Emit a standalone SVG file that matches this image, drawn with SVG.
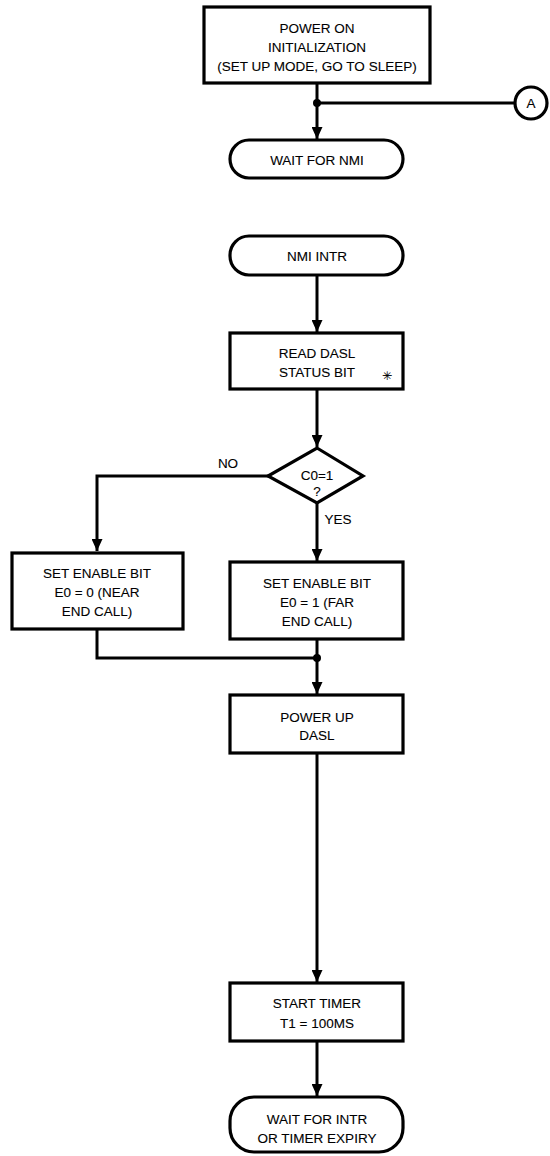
<svg xmlns="http://www.w3.org/2000/svg" width="550" height="1156" viewBox="0 0 550 1156">
<style>
.n{fill:#fff;stroke:#000;stroke-width:3.2}
.c{fill:none;stroke:#000;stroke-width:3}
text{font-family:"Liberation Sans",Arial,sans-serif;font-size:13.5px;fill:#000;stroke:#000;stroke-width:0.1;text-anchor:middle}
</style>
<defs>
<marker id="ah" markerUnits="userSpaceOnUse" markerWidth="12" markerHeight="11" refX="12" refY="5.5" orient="auto">
<path d="M0,0 L12,5.5 L0,11 z" fill="#000"/>
</marker>
</defs>
<g id="connectors">
<path class="c" d="M317,83 V139" marker-end="url(#ah)"/>
<path class="c" d="M317,103 H515"/>
<circle cx="317" cy="103" r="4" fill="#000"/>
<path class="c" d="M317,275 V332" marker-end="url(#ah)"/>
<path class="c" d="M317,389 V447" marker-end="url(#ah)"/>
<path class="c" d="M268,476 H97 V551" marker-end="url(#ah)"/>
<path class="c" d="M317,503 V561" marker-end="url(#ah)"/>
<path class="c" d="M97,629 V658 H317"/>
<path class="c" d="M317,639 V694" marker-end="url(#ah)"/>
<circle cx="317" cy="658" r="4" fill="#000"/>
<path class="c" d="M317,753 V982" marker-end="url(#ah)"/>
<path class="c" d="M317,1041 V1096" marker-end="url(#ah)"/>
<text x="228" y="468">NO</text>
<text x="338" y="524">YES</text>
</g>
<g id="power-on">
<rect class="n" x="204" y="7" width="226" height="76"/>
<text x="317" y="33">POWER ON</text>
<text x="317" y="52">INITIALIZATION</text>
<text x="317" y="71">(SET UP MODE, GO TO SLEEP)</text>
</g>
<g id="connector-a">
<circle class="n" cx="531" cy="103" r="16"/>
<text x="531" y="108">A</text>
</g>
<g id="wait-nmi">
<rect class="n" x="230" y="140" width="173" height="38" rx="19"/>
<text x="317" y="165">WAIT FOR NMI</text>
</g>
<g id="nmi-intr">
<rect class="n" x="230" y="236" width="173" height="39" rx="19"/>
<text x="317" y="261">NMI INTR</text>
</g>
<g id="read-dasl">
<rect class="n" x="230" y="333" width="173" height="56"/>
<text x="317" y="358">READ DASL</text>
<text x="317" y="377">STATUS BIT</text>
<text x="387" y="380" style="font-family:'DejaVu Sans',sans-serif;font-size:12px">✳</text>
</g>
<g id="decision">
<path class="n" d="M317,448 L363,476 L317,503 L268,476 Z"/>
<text x="317" y="480">C0=1</text>
<text x="317" y="496">?</text>
</g>
<g id="enable-0">
<rect class="n" x="12" y="553" width="171" height="76"/>
<text x="97" y="578">SET ENABLE BIT</text>
<text x="97" y="597">E0 = 0 (NEAR</text>
<text x="97" y="616">END CALL)</text>
</g>
<g id="enable-1">
<rect class="n" x="230" y="562" width="173" height="77"/>
<text x="317" y="588">SET ENABLE BIT</text>
<text x="317" y="607">E0 = 1 (FAR</text>
<text x="317" y="626">END CALL)</text>
</g>
<g id="power-up">
<rect class="n" x="230" y="695" width="173" height="58"/>
<text x="317" y="722">POWER UP</text>
<text x="317" y="740">DASL</text>
</g>
<g id="start-timer">
<rect class="n" x="230" y="983" width="173" height="58"/>
<text x="317" y="1008">START TIMER</text>
<text x="317" y="1028">T1 = 100MS</text>
</g>
<g id="wait-intr">
<rect class="n" x="230" y="1097" width="173" height="55" rx="24"/>
<text x="317" y="1124">WAIT FOR INTR</text>
<text x="317" y="1143">OR TIMER EXPIRY</text>
</g>
</svg>
